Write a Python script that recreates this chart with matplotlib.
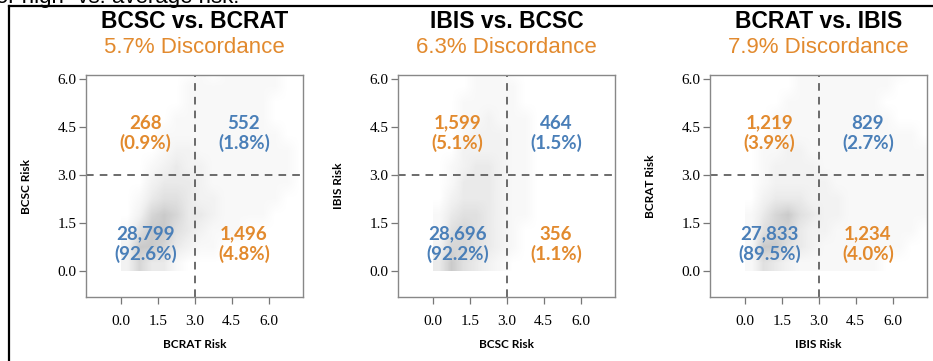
"""Pairwise risk-model agreement: 3 density panels with quadrant counts."""
import numpy as np
import matplotlib
matplotlib.use("Agg")
import matplotlib.pyplot as plt
from matplotlib.lines import Line2D

BLUE = "#4a7fb8"
ORANGE = "#e28a2e"

titles = ["BCSC vs. BCRAT", "IBIS vs. BCSC", "BCRAT vs. IBIS"]
discordance = ["5.7% Discordance", "6.3% Discordance", "7.9% Discordance"]
x_labels = ["BCRAT Risk", "BCSC Risk", "IBIS Risk"]
y_labels = ["BCSC Risk", "IBIS Risk", "BCRAT Risk"]

# quadrant counts / shares: upper-left, upper-right, lower-left, lower-right
counts = [["268", "552", "28,799", "1,496"],
          ["1,599", "464", "28,696", "356"],
          ["1,219", "829", "27,833", "1,234"]]
shares = [["0.9%", "1.8%", "92.6%", "4.8%"],
          ["5.1%", "1.5%", "92.2%", "1.1%"],
          ["3.9%", "2.7%", "89.5%", "4.0%"]]

ticks = [0.0, 1.5, 3.0, 4.5, 6.0]
cutoff = 3.0

density_1 = ["253310000000000",
             "266532110000000",
             "146643211100000",
             "025653321111000",
             "013443221111100",
             "002333211111110",
             "001232211111110",
             "000122111111110",
             "000111111111100",
             "000011111111000",
             "000001111111000",
             "000001111111100",
             "000000101111100"]
density_2 = ["364321000000000",
             "255432100000000",
             "145432100000000",
             "134432110000000",
             "023332110000000",
             "013332110000000",
             "012332110000000",
             "002222110000000",
             "001222110000000",
             "001121110000000",
             "001111100000000",
             "000111100000000",
             "000111000000000"]
density_3 = ["143211111110000",
             "166432111111100",
             "145532211111110",
             "135643221111111",
             "023332221111111",
             "012222211111111",
             "012222111111111",
             "011221111111111",
             "001111111111110",
             "001111111111000",
             "000111111110000",
             "000011111111000",
             "000011111111100"]
densities = [density_1, density_2, density_3]

fig = plt.figure(figsize=(9.33, 3.61), dpi=100)

axes_left = [86, 398, 710]
for i in range(3):
    ax = fig.add_axes([axes_left[i] / 933, 64 / 361, 217 / 933, 222 / 361])
    grid = np.array([[int(c) for c in row] for row in densities[i]], dtype=float)
    ax.imshow(grid, origin="lower", extent=(0, 7.5, 0, 6.5), cmap="Greys",
              vmin=0, vmax=19, aspect="auto", interpolation="bilinear", zorder=0)
    ax.set_xlim(-1.42, 7.4)
    ax.set_ylim(-0.81, 6.125)
    ax.axvline(cutoff, color="#444444", ls=(0, (5, 4)), lw=1.1, zorder=2)
    ax.axhline(cutoff, color="#444444", ls=(0, (5, 4)), lw=1.1, zorder=2)

    ax.set_xticks(ticks)
    ax.set_yticks(ticks)
    ax.set_xticklabels([f"{t:.1f}" for t in ticks], family="Liberation Serif", fontsize=11)
    ax.set_yticklabels([f"{t:.1f}" for t in ticks], family="Liberation Serif", fontsize=11)
    ax.tick_params(length=5, width=0.9, color="#777777", pad=2)
    ax.tick_params(axis="x", pad=8)
    for s in ax.spines.values():
        s.set_color("#888888")
        s.set_linewidth(1.0)

    ax.set_xlabel(x_labels[i], family="Lato", fontweight="bold", fontsize=8.5, labelpad=8)
    ax.set_ylabel(y_labels[i], family="Lato", fontweight="bold", fontsize=8.5, labelpad=18)

    spots = [(1.0, 4.31, ORANGE), (5.0, 4.31, BLUE), (1.0, 0.84, BLUE), (5.0, 0.84, ORANGE)]
    for (qx, qy, col), n, p in zip(spots, counts[i], shares[i]):
        ax.text(qx, qy, f"{n}\n({p})", color=col, ha="center", va="center",
                family="Lato", fontweight="bold", fontsize=13.5, linespacing=1.12, zorder=3)

    cx = (axes_left[i] + 108.5) / 933
    fig.text(cx, 1 - 21 / 361, titles[i], ha="center", va="center",
             family="Liberation Sans", fontweight="bold", fontsize=16.5)
    fig.text(cx, 1 - 47.5 / 361, discordance[i], ha="center", va="center",
             family="Liberation Sans", fontsize=16, color=ORANGE)

# clipped caption line from above and the surrounding frame
fig.text(-0.004, 1 - 3 / 361, "or high- vs. average risk.", ha="left", va="baseline",
         family="Liberation Sans", fontsize=16)
fig.add_artist(Line2D([9 / 933, 9 / 933], [0, 1 - 6 / 361], color="black", lw=1.6))
fig.add_artist(Line2D([9 / 933, 1], [1 - 6 / 361, 1 - 6 / 361], color="black", lw=1.6))

fig.savefig("out.png", dpi=100)
